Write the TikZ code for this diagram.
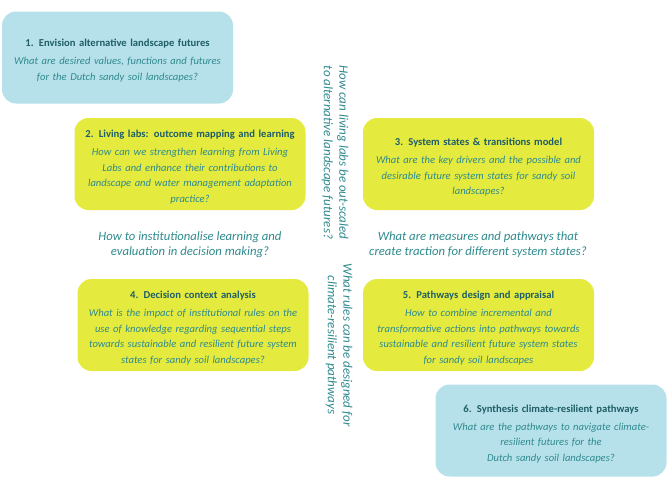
\documentclass[tikz,border=0pt]{standalone}
\usepackage{fontspec}
\setmainfont{Carlito}
\definecolor{boxblue}{HTML}{B7E1EA}
\definecolor{boxyellow}{HTML}{E5EB3E}
\definecolor{titleteal}{HTML}{1F5E66}
\definecolor{qteal}{HTML}{2E8A8E}
\begin{document}
\begin{tikzpicture}[x=1pt,y=-1pt,
  box/.style={rounded corners=14pt, draw=none, align=center, inner sep=0pt,
    minimum width=231pt, minimum height=92pt, text width=228pt,
    font=\fontsize{10.6}{15.5}\selectfont},
  bluebox/.style={box, fill=boxblue},
  yelbox/.style={box, fill=boxyellow},
  question/.style={align=center, inner sep=0pt, text=qteal,
    font=\fontsize{12.7}{15}\selectfont\itshape},
  sidequestion/.style={question, rotate=-90, font=\fontsize{13}{15.5}\selectfont\itshape}]
\useasboundingbox (0,0) rectangle (670,483);
\newcommand{\ttl}[1]{\rule{0pt}{14pt}\textcolor{titleteal}{\textbf{#1}}\\[2.5pt]}
\newcommand{\qst}[1]{\textcolor{qteal}{\itshape #1}}

\node[bluebox] (b1) at (117.5,57.5) {\ttl{1. Envision alternative landscape futures}\qst{What are desired values, functions and futures\\for the Dutch sandy soil landscapes?}};
\node[yelbox] (b2) at (190,164) {\ttl{2. Living labs: outcome mapping and learning}\qst{How can we strengthen learning from Living\\Labs and enhance their contributions to\\landscape and water management adaptation\\practice?}};
\node[yelbox] (b3) at (478.5,164) {\ttl{3. System states \& transitions model}\qst{What are the key drivers and the possible and\\desirable future system states for sandy soil\\landscapes?}};
\node[yelbox] (b4) at (193,325) {\ttl{4. Decision context analysis}\qst{What is the impact of institutional rules on the\\use of knowledge regarding sequential steps\\towards sustainable and resilient future system\\states for sandy soil landscapes?}};
\node[yelbox] (b5) at (478.5,325) {\ttl{5. Pathways design and appraisal}\qst{How to combine incremental and\\transformative actions into pathways towards\\sustainable and resilient future system states\\for sandy soil landscapes}};
\node[bluebox] (b6) at (551,430.5) {\ttl{6. Synthesis climate-resilient pathways}\qst{What are the pathways to navigate climate-\\resilient futures for the\\Dutch sandy soil landscapes?}};

\node[sidequestion] (q1) at (335,152.5) {How can living labs be out-scaled\\to alternative landscape futures?};
\node[sidequestion] (q2) at (339,345) {What rules can be designed for\\climate-resilient pathways};
\node[question] (q3) at (190,245) {How to institutionalise learning and\\evaluation in decision making?};
\node[question] (q4) at (478,245) {What are measures and pathways that\\create traction for different system states?};
\end{tikzpicture}
\end{document}
